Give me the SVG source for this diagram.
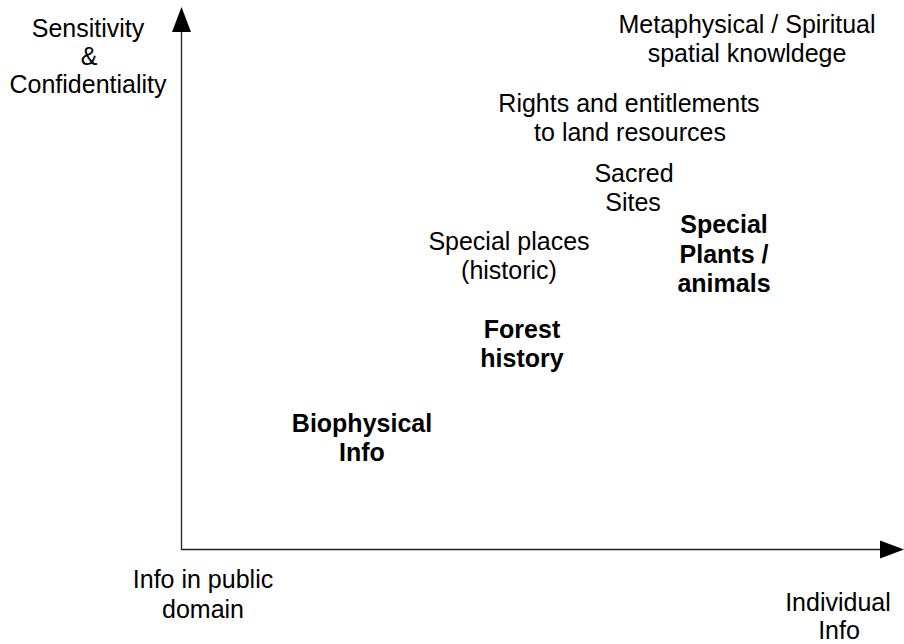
<svg xmlns="http://www.w3.org/2000/svg" width="904" height="644" viewBox="0 0 904 644">
  <style>
    .lbl { font-family: "Liberation Sans", Arial, sans-serif; font-size: 25px; fill: #000; text-anchor: middle; }
    .b { font-weight: bold; }
    .axis { stroke: #222; stroke-width: 1.3; fill: none; }
    .head { fill: #000; }
  </style>
  <rect width="904" height="644" fill="#fff"/>

  <!-- axes -->
  <g id="connectors">
    <line class="axis" x1="181.5" y1="30" x2="181.5" y2="550"/>
    <polygon class="head" points="181.5,7 172,32 191,32"/>
    <line class="axis" x1="181" y1="549.5" x2="882" y2="549.5"/>
    <polygon class="head" points="904,549.5 880,540.5 880,558.5"/>
  </g>

  <g id="y-axis-label">
    <text class="lbl" x="88" y="37">Sensitivity</text>
    <text class="lbl" x="89" y="65">&amp;</text>
    <text class="lbl" x="88" y="93">Confidentiality</text>
  </g>

  <g id="x-axis-low">
    <text class="lbl" x="203" y="588">Info in public</text>
    <text class="lbl" x="203" y="618">domain</text>
  </g>

  <g id="x-axis-high">
    <text class="lbl" x="838" y="611">Individual</text>
    <text class="lbl" x="839" y="639">Info</text>
  </g>

  <g id="metaphysical">
    <text class="lbl" x="747" y="33">Metaphysical / Spiritual</text>
    <text class="lbl" x="747" y="62">spatial knowldege</text>
  </g>

  <g id="rights">
    <text class="lbl" x="629" y="112">Rights and entitlements</text>
    <text class="lbl" x="630" y="141">to land resources</text>
  </g>

  <g id="sacred-sites">
    <text class="lbl" x="634" y="182">Sacred</text>
    <text class="lbl" x="633" y="211">Sites</text>
  </g>

  <g id="special-plants">
    <text class="lbl b" x="724" y="233">Special</text>
    <text class="lbl b" x="724" y="263">Plants /</text>
    <text class="lbl b" x="724" y="292">animals</text>
  </g>

  <g id="special-places">
    <text class="lbl" x="509" y="250">Special places</text>
    <text class="lbl" x="509" y="279">(historic)</text>
  </g>

  <g id="forest-history">
    <text class="lbl b" x="522" y="338">Forest</text>
    <text class="lbl b" x="522" y="367">history</text>
  </g>

  <g id="biophysical">
    <text class="lbl b" x="362" y="432">Biophysical</text>
    <text class="lbl b" x="362" y="461">Info</text>
  </g>
</svg>
